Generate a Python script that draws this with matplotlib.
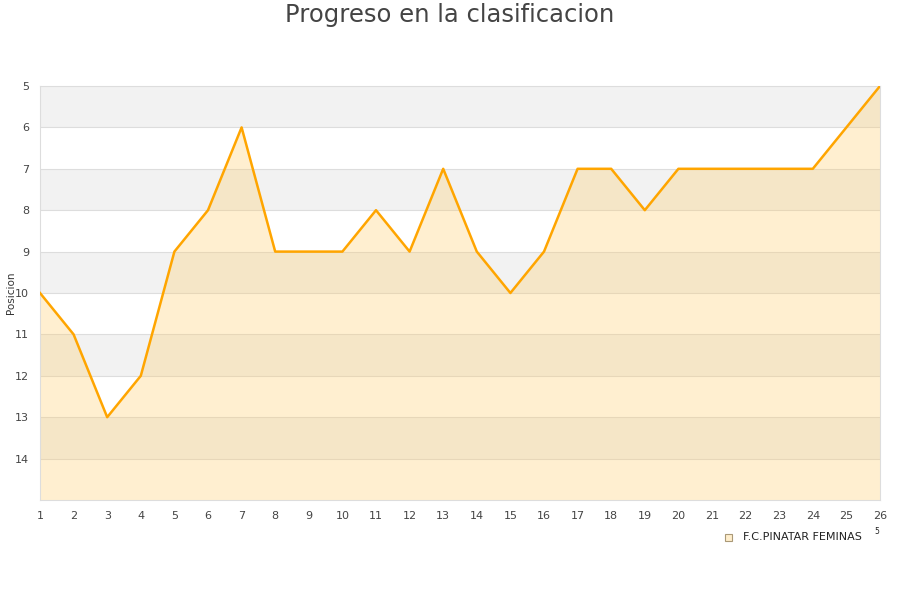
import numpy as np
import matplotlib.pyplot as plt
from matplotlib.patches import Rectangle

jornadas = list(range(1, 27))
posicion = [10, 11, 13, 12, 9, 8, 6, 9, 9, 9, 8, 9, 7, 9, 10, 9, 7, 7, 8, 7, 7, 7, 7, 7, 6, 5]
y_ticks = [5, 6, 7, 8, 9, 10, 11, 12, 13, 14]
equipo = 'F.C.PINATAR FEMINAS'


def plot_progreso():
    fig = plt.figure(figsize=(9, 6), dpi=100)
    ax = fig.add_axes([40 / 900, 1 - 500 / 600, 840 / 900, 414 / 600])

    # alternating bands
    for y0 in range(5, 15):
        color = '#f2f2f2' if (y0 - 5) % 2 == 0 else 'white'
        ax.axhspan(y0, y0 + 1, color=color, zorder=0, lw=0)
    for y0 in range(6, 15):
        ax.axhline(y0, color='#dddddd', lw=0.8, zorder=1)

    ax.fill_between(jornadas, posicion, 15, color='#ffcc66', alpha=0.3, lw=0, zorder=2)
    ax.plot(jornadas, posicion, color='#ffa500', lw=1.8, zorder=3)

    ax.set_xlim(1, 26)
    ax.set_ylim(15, 5)
    ax.set_xticks(jornadas)
    ax.set_yticks(y_ticks)
    ax.tick_params(axis='both', length=0, labelsize=8, colors='#444444')
    ax.tick_params(axis='x', pad=8)
    ax.tick_params(axis='y', pad=8)
    for s in ax.spines.values():
        s.set_color('#dddddd')
    ax.set_ylabel('Posicion', fontsize=7.5, color='#333333')
    ax.yaxis.set_label_coords(-24 / 840, 0.5)

    fig.text(0.5, 1 - 15 / 600, 'Progreso en la clasificacion', ha='center', va='center',
             fontsize=17.5, color='#444444')

    # legend
    fig.patches.append(Rectangle((725 / 900, 1 - 541 / 600), 7 / 900, 7 / 600,
                                 transform=fig.transFigure, facecolor='#ffeecc',
                                 edgecolor='#aa9977', lw=0.8))
    fig.text(743 / 900, 1 - 537 / 600, equipo, fontsize=8, color='#222222', va='center')
    fig.text(874 / 900, 1 - 532 / 600, '5', fontsize=5.5, color='#222222', va='center')

    fig.savefig('out.png', dpi=100)


if __name__ == '__main__':
    plot_progreso()
